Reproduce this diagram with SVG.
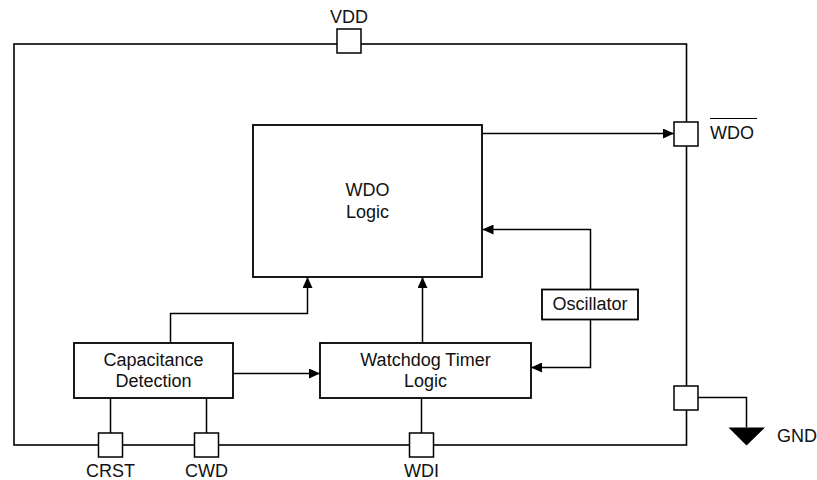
<svg xmlns="http://www.w3.org/2000/svg" width="817" height="480" viewBox="0 0 817 480">
<defs>
<style>
.frame{fill:none;stroke:#000;stroke-width:1.6}
.box{fill:#fff;stroke:#000;stroke-width:1.8}
.pad{fill:#fff;stroke:#000;stroke-width:1.5}
.wire{fill:none;stroke:#000;stroke-width:1.5}
text{font-family:"Liberation Sans",Arial,sans-serif;font-size:18px;fill:#111}
.c{text-anchor:middle}
</style>
<marker id="arr" markerWidth="11" markerHeight="10" refX="11" refY="5" orient="auto" markerUnits="userSpaceOnUse">
<path d="M0,0 L11,5 L0,10 z" fill="#000"/>
</marker>
</defs>
<rect class="frame" x="14" y="44" width="672.5" height="401"/>
<g id="connectors">
<path class="wire" d="M482,133.5 H674" marker-end="url(#arr)"/>
<path class="wire" d="M590.5,289.5 V229.5 H482.5" marker-end="url(#arr)"/>
<path class="wire" d="M590.5,319.5 V367.5 H531" marker-end="url(#arr)"/>
<path class="wire" d="M422.5,343 V277" marker-end="url(#arr)"/>
<path class="wire" d="M170.5,343 V313.5 H307.5 V277" marker-end="url(#arr)"/>
<path class="wire" d="M233,373.5 H320" marker-end="url(#arr)"/>
<path class="wire" d="M110.5,398 V433"/>
<path class="wire" d="M206.5,398 V433"/>
<path class="wire" d="M421.5,398 V433"/>
<path class="wire" d="M698,397.5 H746.5 V427.5"/>
<path d="M728.5,427.5 H765 L746.5,445.5 z" fill="#000"/>
</g>
<g id="wdo-logic">
<rect class="box" x="253" y="125" width="229" height="152"/>
<text class="c" x="367.5" y="196">WDO</text>
<text class="c" x="367.5" y="217.5">Logic</text>
</g>
<g id="oscillator">
<rect class="box" x="542" y="289.5" width="96" height="30"/>
<text class="c" x="590" y="310">Oscillator</text>
</g>
<g id="watchdog-timer">
<rect class="box" x="320" y="343" width="211" height="55"/>
<text class="c" x="425.5" y="365.5">Watchdog Timer</text>
<text class="c" x="425.5" y="387">Logic</text>
</g>
<g id="capacitance-detection">
<rect class="box" x="74" y="343" width="159" height="55"/>
<text class="c" x="153.5" y="365.5">Capacitance</text>
<text class="c" x="153.5" y="387">Detection</text>
</g>
<g id="pin-vdd">
<rect class="pad" x="337" y="29" width="24" height="24"/>
<text class="c" x="349" y="23">VDD</text>
</g>
<g id="pin-wdo">
<rect class="pad" x="674" y="122" width="24" height="24"/>
<text x="710" y="139">WDO</text>
<line x1="710" y1="118.5" x2="757" y2="118.5" stroke="#000" stroke-width="1.2"/>
</g>
<g id="pin-gnd">
<rect class="pad" x="674" y="386" width="24" height="24"/>
<text x="777" y="442">GND</text>
</g>
<g id="pin-crst">
<rect class="pad" x="98.5" y="433" width="24" height="24"/>
<text class="c" x="110.5" y="477">CRST</text>
</g>
<g id="pin-cwd">
<rect class="pad" x="194.5" y="433" width="24" height="24"/>
<text class="c" x="206.5" y="477">CWD</text>
</g>
<g id="pin-wdi">
<rect class="pad" x="409.5" y="433" width="24" height="24"/>
<text class="c" x="421.5" y="477">WDI</text>
</g>
</svg>
